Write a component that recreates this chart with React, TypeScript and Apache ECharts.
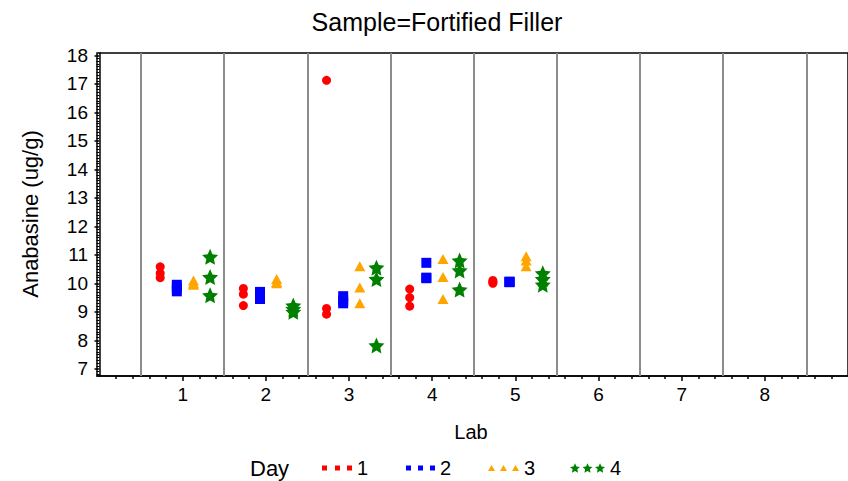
import React, { useEffect, useRef } from "react";
import * as echarts from "echarts";

// Lab numbers shown on the x axis
const LAB_TICKS = [1, 2, 3, 4, 5, 6, 7, 8];
// Anabasine tick labels on the y axis
const Y_TICKS = [7, 8, 9, 10, 11, 12, 13, 14, 15, 16, 17, 18];
const DAY_NAMES = ["1", "2", "3", "4"];

// Replicate results (ug/g) per lab (labs 1..5) for each day
const LABS = [1, 2, 3, 4, 5];
const DAY1 = [
  [10.58, 10.35, 10.2],
  [9.82, 9.62, 9.22],
  [17.12, 9.12, 8.92],
  [9.8, 9.5, 9.2],
  [10.1, 10.05, 10.0],
];
const DAY2 = [
  [9.95, 9.85, 9.72],
  [9.7, 9.55, 9.45],
  [9.55, 9.4, 9.3],
  [10.72, 10.2, 10.18],
  [10.06, 10.05, 10.04],
];
const DAY3 = [
  [10.1, 10.0, 9.95],
  [10.15, 10.05, 10.0],
  [10.6, 9.85, 9.3],
  [10.85, 10.22, 9.45],
  [10.95, 10.8, 10.6],
];
const DAY4 = [
  [10.93, 10.22, 9.58],
  [9.22, 9.1, 9.0],
  [10.55, 10.15, 7.82],
  [10.8, 10.45, 9.78],
  [10.35, 10.15, 9.95],
];

const STAR =
  "M5,0L6.41,3.06L9.76,3.45L7.28,5.74L7.94,9.05L5,7.4L2.06,9.05L2.72,5.74L0.24,3.45L3.59,3.06Z";

function shiftStar(dx: number) {
  const nums = STAR.replace(/[MLZ]/g, " ").trim().split(/\s+/);
  const pts = nums.map((p) => {
    const [x, y] = p.split(",").map(Number);
    return `${(x + dx).toFixed(2)},${y}`;
  });
  return "M" + pts.join("L") + "Z";
}

const FONT = "'Liberation Sans', Arial, sans-serif";

// symbol style and horizontal jitter for each day group
const DAY_STYLE = [
  { color: "#ff0000", symbol: "circle", size: 9, dx: -0.27,
    icon: "path://M0,0h5v5h-5zM13,0h5v5h-5zM25,0h5v5h-5z", iw: 30, ih: 5, left: 322 },
  { color: "#0000ff", symbol: "rect", size: 10, dx: -0.07,
    icon: "path://M0,0h5v5h-5zM12,0h5v5h-5zM24,0h5v5h-5z", iw: 29, ih: 5, left: 406 },
  { color: "#ffa500", symbol: "triangle", size: [11, 10], dx: 0.13,
    icon: "path://M0,6L3.5,0L7,6ZM12,6L15.5,0L19,6ZM24,6L27.5,0L31,6Z", iw: 31, ih: 6, left: 488 },
  { color: "#008000", symbol: "path://" + STAR, size: 16, dx: 0.33,
    icon: "path://" + STAR + shiftStar(12) + shiftStar(24), iw: 35, ih: 10, left: 570 },
];

function range(from: number, to: number, step: number, skipInts: boolean) {
  const out: number[] = [];
  const n = Math.round((to - from) / step);
  for (let i = 0; i <= n; i++) {
    const v = +(from + i * step).toFixed(4);
    if (skipInts && Math.abs(v - Math.round(v)) < 1e-6) continue;
    out.push(v);
  }
  return out;
}

const X_MIN = -0.03;
const X_MAX = 9;

export default function App() {
  const ref = useRef<HTMLDivElement>(null);

  useEffect(() => {
    if (!ref.current) return;
    const chart = echarts.init(ref.current, null, { renderer: "svg" });

    const days = [DAY1, DAY2, DAY3, DAY4];
    const series: any[] = days.map((vals, d) => {
      const st = DAY_STYLE[d];
      const data: number[][] = [];
      LABS.forEach((lab, i) => {
        vals[i].forEach((v) => data.push([lab + st.dx, v]));
      });
      return {
        name: DAY_NAMES[d],
        type: "scatter",
        data,
        symbol: st.symbol,
        symbolSize: st.size,
        itemStyle: { color: st.color, opacity: 1 },
        z: 3,
      };
    });

    // vertical separators between labs
    series.push({
      type: "scatter",
      data: [],
      z: 1,
      silent: true,
      markLine: {
        silent: true,
        symbol: "none",
        label: { show: false },
        lineStyle: { color: "#8c8c8c", width: 2, type: "solid" },
        data: range(0.5, 8.5, 1, false).map((x) => ({ xAxis: x })),
      },
    });

    const legends = DAY_STYLE.map((st, d) => ({
      data: [{ name: DAY_NAMES[d], icon: st.icon }],
      left: st.left,
      top: 458,
      padding: 0,
      itemWidth: st.iw,
      itemHeight: st.ih,
      selectedMode: false,
      textStyle: { fontFamily: FONT, fontSize: 20, color: "#000" },
    }));

    chart.setOption({
      animation: false,
      backgroundColor: "#fff",
      grid: {
        left: 97,
        top: 53,
        width: 761,
        height: 323,
        show: true,
        borderColor: "#000",
        borderWidth: 1.5,
        backgroundColor: "transparent",
      },
      legend: legends,
      xAxis: [
        {
          type: "value",
          min: X_MIN,
          max: X_MAX,
          position: "bottom",
          axisLine: { show: true, lineStyle: { color: "#000", width: 1.5 } },
          axisTick: { show: true, length: 5, customValues: LAB_TICKS, lineStyle: { color: "#000", width: 1.5 } },
          axisLabel: { customValues: LAB_TICKS, fontFamily: FONT, fontSize: 19, color: "#000", margin: 9 },
          splitLine: { show: false },
        },
        {
          type: "value",
          min: X_MIN,
          max: X_MAX,
          position: "bottom",
          axisLine: { show: false },
          axisTick: { show: true, length: 3, customValues: range(0.2, 8.8, 0.2, true), lineStyle: { color: "#000", width: 1.5 } },
          axisLabel: { show: false },
          splitLine: { show: false },
        },
      ],
      yAxis: [
        {
          type: "value",
          min: 6.75,
          max: 18.08,
          axisLine: { show: true, lineStyle: { color: "#000", width: 1.5 } },
          axisTick: { show: true, length: 5, customValues: Y_TICKS, lineStyle: { color: "#000", width: 1.5 } },
          axisLabel: { customValues: Y_TICKS, fontFamily: FONT, fontSize: 19, color: "#000", margin: 9 },
          splitLine: { show: false },
        },
        {
          type: "value",
          min: 6.75,
          max: 18.08,
          position: "left",
          axisLine: { show: false },
          axisTick: { show: true, length: 3, customValues: range(6.8, 18.0, 0.1, true), lineStyle: { color: "#000", width: 1 } },
          axisLabel: { show: false },
          splitLine: { show: false },
        },
      ],
      graphic: [
        {
          type: "text",
          x: 437,
          y: 22,
          style: { text: "Sample=Fortified Filler", fontFamily: FONT, fontSize: 25, fill: "#000", align: "center", verticalAlign: "middle" },
        },
        {
          type: "text",
          x: 471,
          y: 432,
          style: { text: "Lab", fontFamily: FONT, fontSize: 20, fill: "#000", align: "center", verticalAlign: "middle" },
        },
        {
          type: "text",
          x: 30,
          y: 214,
          rotation: Math.PI / 2,
          style: { text: "Anabasine (ug/g)", fontFamily: FONT, fontSize: 22, fill: "#000", align: "center", verticalAlign: "middle" },
        },
        {
          type: "text",
          x: 250,
          y: 468,
          style: { text: "Day", fontFamily: FONT, fontSize: 22, fill: "#000", align: "left", verticalAlign: "middle" },
        },
      ],
      series,
    });

    return () => chart.dispose();
  }, []);

  return (
    <div
      ref={ref}
      style={{ position: "fixed", left: 0, top: 0, width: 848, height: 481 }}
    />
  );
}
